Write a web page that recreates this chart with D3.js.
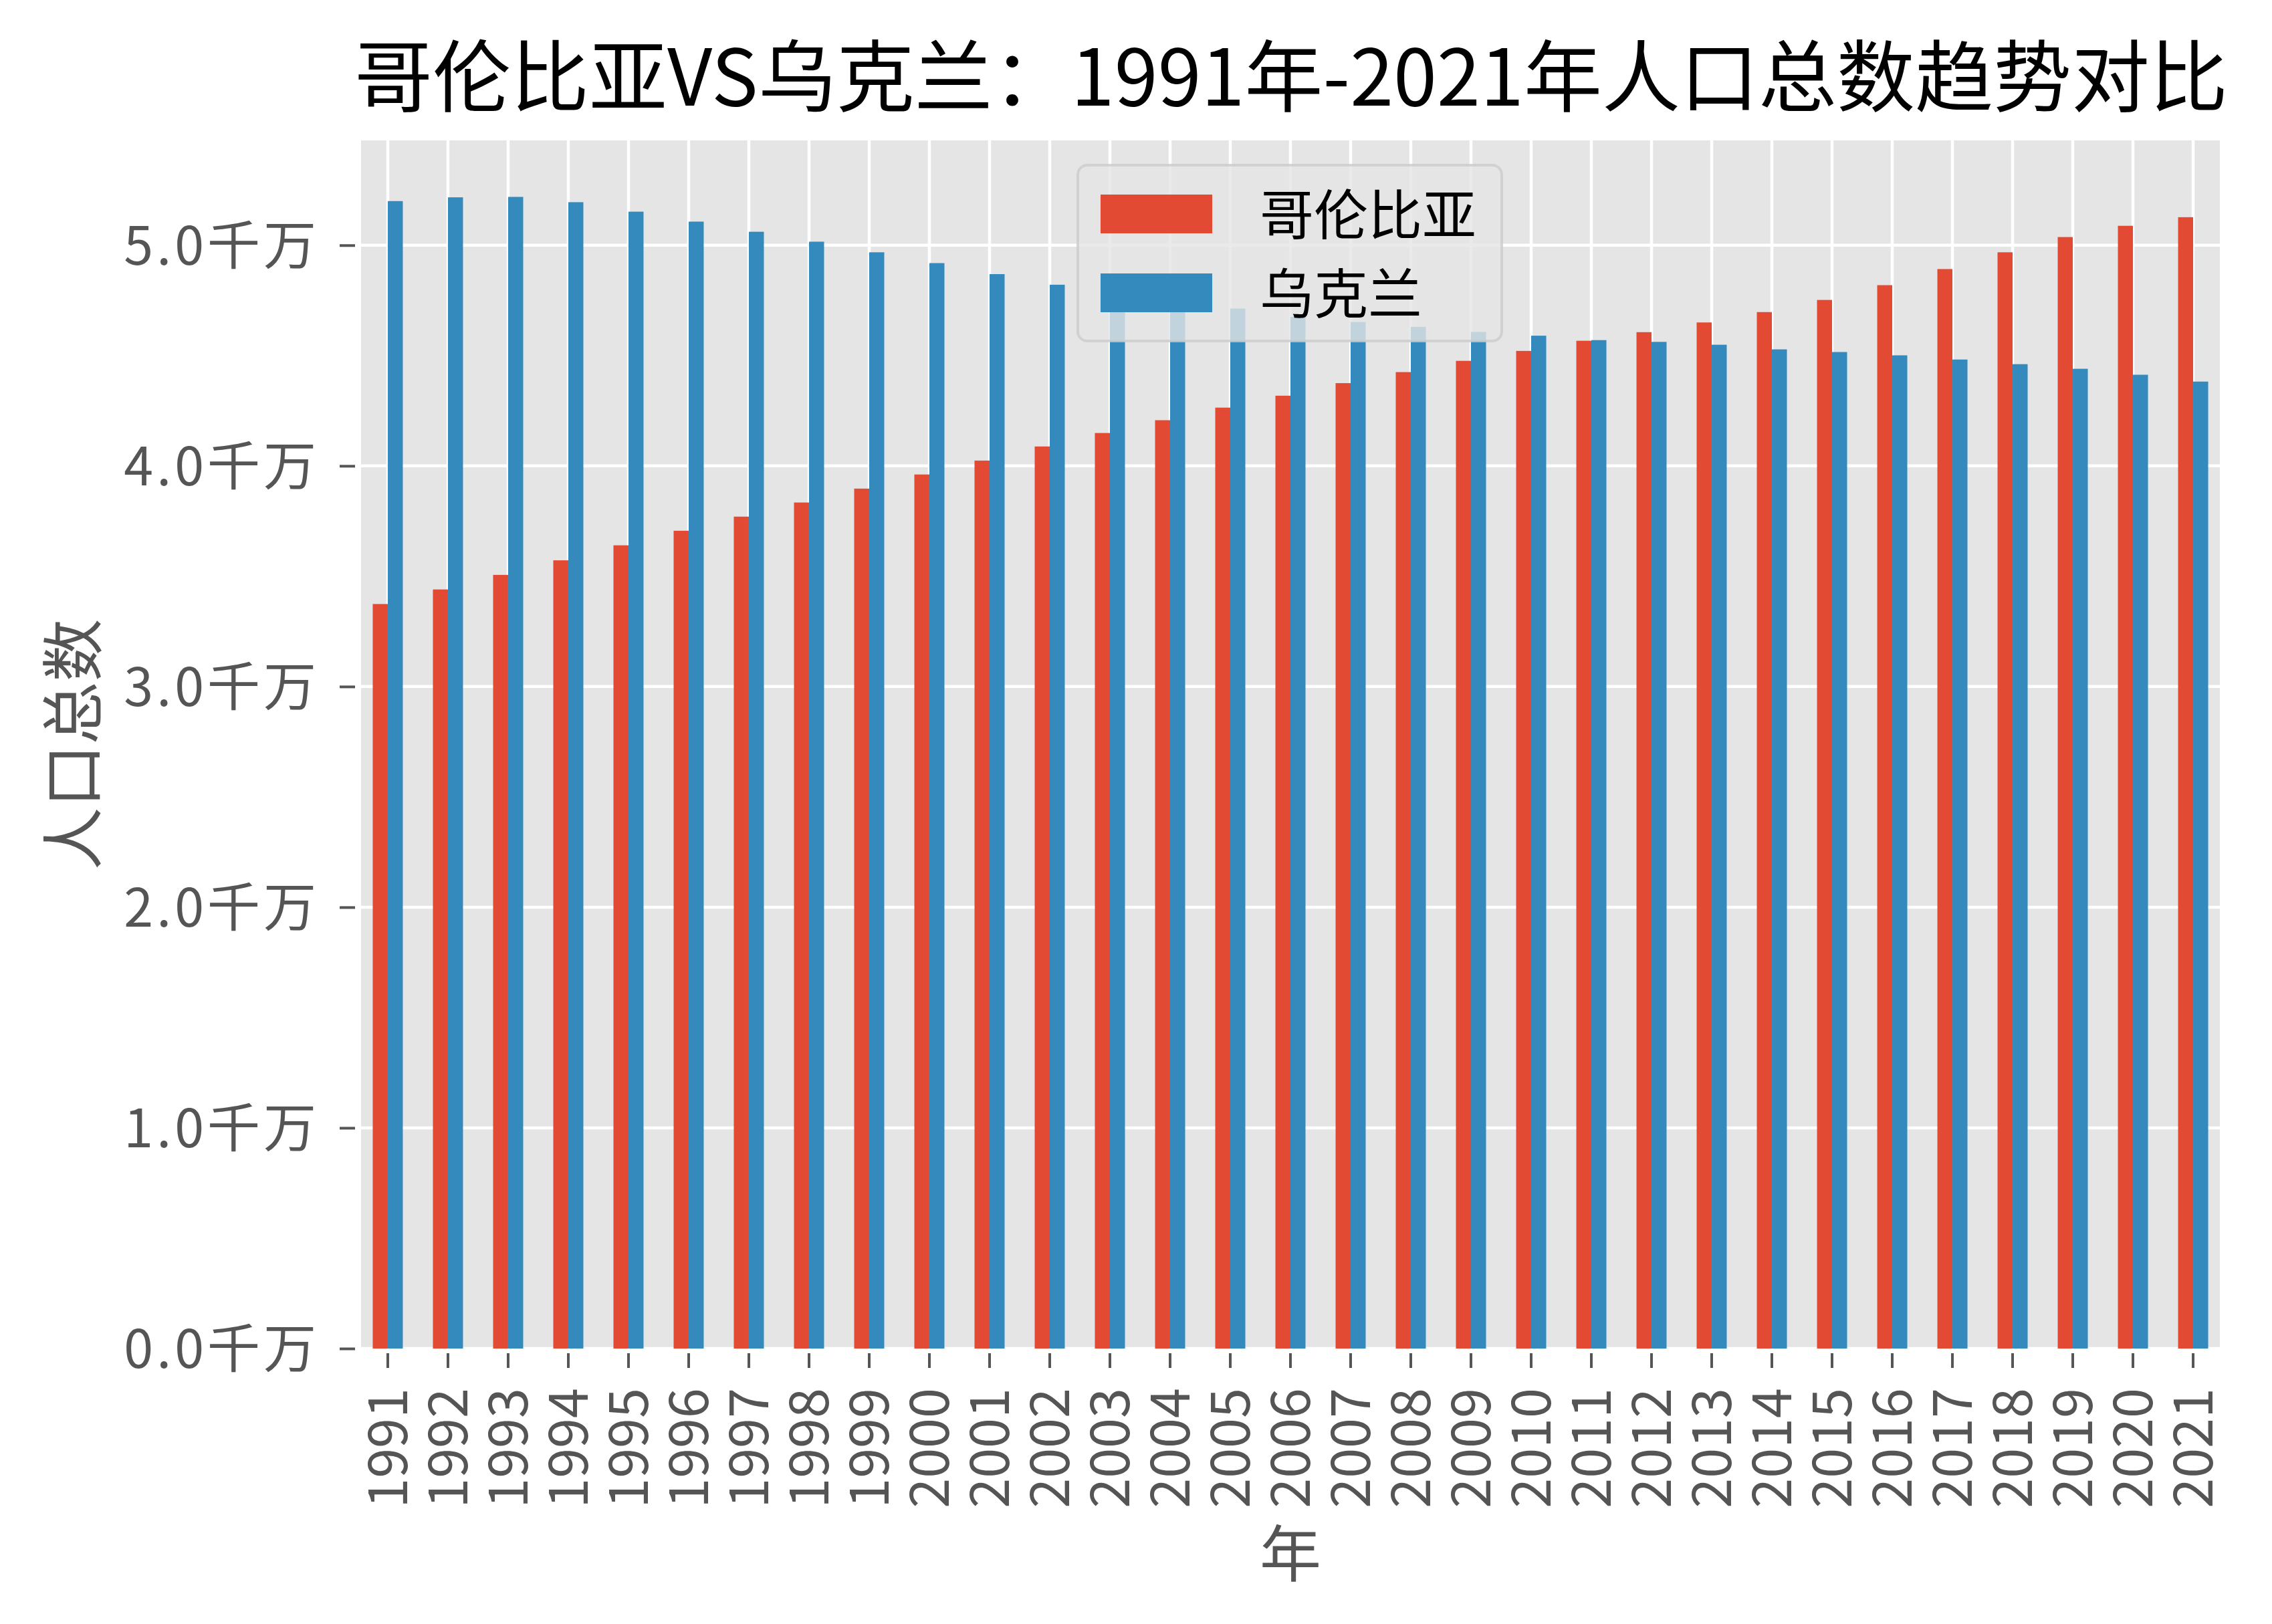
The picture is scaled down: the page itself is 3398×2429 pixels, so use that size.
<!DOCTYPE html>
<html>
<head>
<meta charset="utf-8">
<script src="https://cdn.jsdelivr.net/npm/d3@7"></script>
<style>
  html, body { margin: 0; padding: 0; background: #ffffff; }
  svg { display: block; }
  text { font-family: "Noto Sans CJK SC", "Noto Sans", sans-serif; }
</style>
</head>
<body>
<svg id="chart" width="3398" height="2429"></svg>
<script>
// ---- data (units: 千万 people) ----
const years = ["1991","1992","1993","1994","1995","1996","1997","1998","1999","2000",
               "2001","2002","2003","2004","2005","2006","2007","2008","2009","2010",
               "2011","2012","2013","2014","2015","2016","2017","2018","2019","2020","2021"];
const seriesNames = ["哥伦比亚", "乌克兰"];
const colombia = [3.374, 3.440, 3.506, 3.572, 3.640, 3.706, 3.770, 3.834, 3.897, 3.961,
                  4.024, 4.088, 4.149, 4.207, 4.264, 4.318, 4.375, 4.425, 4.476, 4.521,
                  4.567, 4.606, 4.650, 4.697, 4.752, 4.819, 4.892, 4.968, 5.037, 5.088, 5.127];
const ukraine = [5.200, 5.217, 5.219, 5.195, 5.152, 5.107, 5.061, 5.016, 4.968, 4.919,
                 4.869, 4.821, 4.781, 4.745, 4.713, 4.675, 4.652, 4.630, 4.607, 4.590,
                 4.570, 4.562, 4.549, 4.528, 4.516, 4.501, 4.482, 4.461, 4.440, 4.413, 4.382];
const yTicks = [0, 1, 2, 3, 4, 5];
const yTickSuffix = "千万";
const titleText = "哥伦比亚VS乌克兰：1991年-2021年人口总数趋势对比";
const xLabel = "年";
const yLabel = "人口总数";
const colors = ["#E24A33", "#348ABD"];

// ---- layout ----
const svg = d3.select("#chart");
const plot = { left: 540, right: 3320, top: 210, bottom: 2017 };
const yMax = 5.475;

const x = d3.scaleBand().domain(years).range([plot.left, plot.right])
  .paddingInner(0.5).paddingOuter(0.194);
const y = d3.scaleLinear().domain([0, yMax]).range([plot.bottom, plot.top]);
const bw = x.bandwidth() / 2;
const series = [colombia, ukraine];

// background
svg.append("rect").attr("x", plot.left).attr("y", plot.top)
  .attr("width", plot.right - plot.left).attr("height", plot.bottom - plot.top)
  .attr("fill", "#E5E5E5");

// grid
const grid = svg.append("g").attr("stroke", "#ffffff").attr("stroke-width", 4.5);
grid.selectAll("line.v").data(years).join("line").attr("class", "v")
  .attr("x1", d => x(d) + x.bandwidth() / 2).attr("x2", d => x(d) + x.bandwidth() / 2)
  .attr("y1", plot.top).attr("y2", plot.bottom);
grid.selectAll("line.h").data(yTicks).join("line").attr("class", "h")
  .attr("x1", plot.left).attr("x2", plot.right)
  .attr("y1", d => y(d)).attr("y2", d => y(d));

// bars
series.forEach((vals, si) => {
  svg.append("g").attr("fill", colors[si]).selectAll("rect")
    .data(vals.map((v, i) => ({ year: years[i], v })))
    .join("rect")
    .attr("x", d => x(d.year) + si * bw)
    .attr("width", bw)
    .attr("y", d => y(d.v))
    .attr("height", d => y(0) - y(d.v));
});

// y axis
const yAxis = d3.axisLeft(y).tickValues(yTicks)
  .tickFormat(d => d3.format(".1f")(d) + yTickSuffix)
  .tickSize(23).tickPadding(30);
const gy = svg.append("g").attr("transform", `translate(${plot.left - 9},0)`).call(yAxis);
gy.select(".domain").remove();
gy.selectAll(".tick line").attr("stroke", "#555555").attr("stroke-width", 4);
gy.selectAll(".tick text").attr("fill", "#555555").attr("font-size", 79)
  .attr("letter-spacing", 5).attr("dy", "0.36em");

// x axis
const xAxis = d3.axisBottom(x).tickSize(22).tickPadding(0);
const gx = svg.append("g").attr("transform", `translate(0,${plot.bottom + 7})`).call(xAxis);
gx.select(".domain").remove();
gx.selectAll(".tick line").attr("stroke", "#555555").attr("stroke-width", 4);
gx.selectAll(".tick text").attr("fill", "#555555").attr("font-size", 81)
  .attr("text-anchor", "end")
  .attr("transform", "translate(0,52) rotate(-90)")
  .attr("x", 0).attr("y", 0).attr("dy", "0.36em");

// axis labels
svg.append("text").attr("x", (plot.left + plot.right) / 2).attr("y", 2323)
  .attr("dy", "0.38em").attr("text-anchor", "middle")
  .attr("font-size", 92).attr("fill", "#555555").text(xLabel);
svg.append("text")
  .attr("transform", `translate(108,${(plot.top + plot.bottom) / 2}) rotate(-90)`)
  .attr("dy", "0.38em").attr("text-anchor", "middle")
  .attr("font-size", 94).attr("fill", "#555555").text(yLabel);

// title
svg.append("text").attr("x", 1931).attr("y", 158).attr("text-anchor", "middle")
  .attr("font-size", 117).attr("fill", "#000000").text(titleText);

// legend
const lg = svg.append("g");
lg.append("rect").attr("x", 1612).attr("y", 247).attr("width", 634).attr("height", 263)
  .attr("rx", 14).attr("fill", "#E5E5E5").attr("fill-opacity", 0.8)
  .attr("stroke", "#CCCCCC").attr("stroke-opacity", 0.8).attr("stroke-width", 4);
const rowY = [320, 438];
seriesNames.forEach((name, i) => {
  lg.append("rect").attr("x", 1646).attr("y", rowY[i] - 29).attr("width", 167).attr("height", 58)
    .attr("fill", colors[i]);
  lg.append("text").attr("x", 1884).attr("y", rowY[i]).attr("dy", "0.38em")
    .attr("font-size", 81).attr("fill", "#000000").text(name);
});
</script>
</body>
</html>
